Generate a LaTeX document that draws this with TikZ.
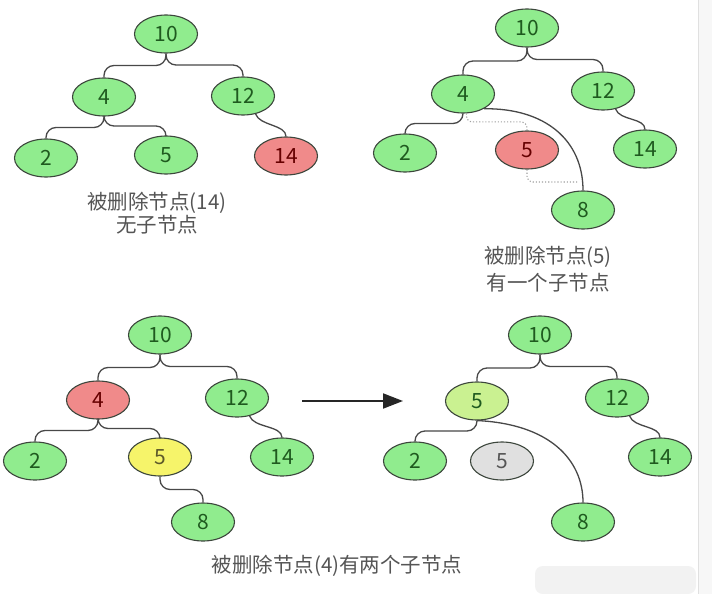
\documentclass[tikz,border=0pt]{standalone}
\usepackage{fontspec}
\setmainfont{Noto Sans CJK SC}
\usetikzlibrary{arrows.meta,calc,shapes.geometric}
\definecolor{ngreen}{HTML}{90EC8E}
\definecolor{nred}{HTML}{F08A8A}
\definecolor{nyellow}{HTML}{F6F46A}
\definecolor{nlime}{HTML}{CAF191}
\definecolor{ngray}{HTML}{E0E0E0}
\definecolor{edgecol}{HTML}{3C463C}
\definecolor{linecol}{HTML}{484848}
\definecolor{dgreen}{HTML}{1F5A1F}
\definecolor{capcol}{HTML}{555555}
\tikzset{
  tn/.style={ellipse, draw=edgecol, line width=1.1pt, minimum width=63pt, minimum height=38pt,
             inner sep=0pt, font=\fontsize{21}{21}\selectfont, text=dgreen},
  gn/.style={tn, fill=ngreen},
  rn/.style={tn, fill=nred, text=red!40!black},
  yn/.style={tn, fill=nyellow, text=olive!55!black},
  ln/.style={tn, fill=nlime},
  grn/.style={tn, fill=ngray, text=capcol},
  conn/.style={draw=linecol, line width=1.3pt, rounded corners=10pt},
  curvec/.style={draw=linecol, line width=1.3pt},
  dots/.style={draw=gray!75, line width=1.1pt, dotted, rounded corners=6pt},
  captxt/.style={font=\fontsize{20.5}{20.5}\selectfont, text=capcol, inner sep=0pt},
  bigarrow/.style={draw=black!85, line width=2pt, -{Triangle[length=20pt,width=15pt]}},
}
\begin{document}
\begin{tikzpicture}[x=1pt,y=-1pt]
\useasboundingbox (0,0) rectangle (712,594);
\fill[white] (0,0) rectangle (712,594);
\fill[black!3] (698,0) rectangle (712,594);
\draw[black!12, line width=0.8pt] (698,0) -- (698,594);
\fill[black!5, rounded corners=8pt] (535,566) rectangle (696,594);

% ---------- panel 1 ----------
\node[gn] (a10) at (166,34) {10};
\node[gn] (a4) at (104,97) {4};
\node[gn] (a12) at (243,96) {12};
\node[gn] (a2) at (46,158) {2};
\node[gn] (a5) at (166,155) {5};
\node[rn] (a14) at (286,156) {14};
\draw[conn] (a10.south) |- ($(a10.south)!.5!(a4.north)$) -| (a4.north);
\draw[conn] (a10.south) |- ($(a10.south)!.5!(a12.north)$) -| (a12.north);
\draw[conn] (a4.south) |- ($(a4.south)!.5!(a2.north)$) -| (a2.north);
\draw[conn] (a4.south) |- ($(a4.south)!.5!(a5.north)$) -| (a5.north);
\draw[curvec] (a12.-55) .. controls +(4,12) and +(0,-12) .. (a14.north);
\node[captxt] (capa1) at (157,203) {被删除节点(14)};
\node[captxt] (capa2) at (157,225) {无子节点};

% ---------- panel 2 ----------
\node[gn] (b10) at (527,28) {10};
\node[gn] (b4) at (463,94) {4};
\node[gn] (b12) at (603,91) {12};
\node[gn] (b2) at (405,153) {2};
\node[rn] (b5) at (527,150) {5};
\node[gn] (b14) at (645,149) {14};
\node[gn] (b8) at (583,210) {8};
\coordinate (b58) at (579,182);
\draw[conn] (b10.south) |- ($(b10.south)!.5!(b4.north)$) -| (b4.north);
\draw[conn] (b10.south) |- ($(b10.south)!.5!(b12.north)$) -| (b12.north);
\draw[conn] (b4.south) |- ($(b4.south)!.5!(b2.north)$) -| (b2.north);
\draw[curvec] (b12.-55) .. controls +(4,12) and +(0,-12) .. (b14.north);
\draw[curvec] (b4.-35) .. controls (545,108) and (583,140) .. (b8.north);
\draw[dots] (b4.-80) |- ($(b4.-80)!.5!(b5.north)$) -| (b5.north);
\draw[dots] (b5.south) |- (b58);
\node[captxt] (capb1) at (548,257) {被删除节点(5)};
\node[captxt] (capb2) at (548,283) {有一个子节点};

% ---------- panel 3 ----------
\node[gn] (c10) at (160,335) {10};
\node[rn] (c4) at (98,400) {4};
\node[gn] (c12) at (237,398) {12};
\node[gn] (c2) at (35,461) {2};
\node[yn] (c5) at (160,457) {5};
\node[gn] (c14) at (282,457) {14};
\node[gn] (c8) at (203,522) {8};
\draw[conn] (c10.south) |- ($(c10.south)!.5!(c4.north)$) -| (c4.north);
\draw[conn] (c10.south) |- ($(c10.south)!.5!(c12.north)$) -| (c12.north);
\draw[conn] (c4.south) |- ($(c4.south)!.5!(c2.north)$) -| (c2.north);
\draw[conn] (c4.south) |- ($(c4.south)!.5!(c5.north)$) -| (c5.north);
\draw[curvec] (c12.-55) .. controls +(4,12) and +(0,-12) .. (c14.north);
\draw[conn] (c5.south) |- ($(c5.south)!.5!(c8.north)$) -| (c8.north);

% arrow
\coordinate (arrs) at (302,401);
\coordinate (arre) at (403,401);
\draw[bigarrow] (arrs) -- (arre);

% ---------- panel 4 ----------
\node[gn] (d10) at (540,335) {10};
\node[ln] (d5) at (477,401) {5};
\node[gn] (d12) at (617,398) {12};
\node[gn] (d2) at (415,461) {2};
\node[grn] (d5g) at (502,461) {5};
\node[gn] (d14) at (660,457) {14};
\node[gn] (d8) at (583,522) {8};
\draw[conn] (d10.south) |- ($(d10.south)!.5!(d5.north)$) -| (d5.north);
\draw[conn] (d10.south) |- ($(d10.south)!.5!(d12.north)$) -| (d12.north);
\draw[conn] (d5.south) |- ($(d5.south)!.5!(d2.north)$) -| (d2.north);
\draw[curvec] (d12.-55) .. controls +(4,12) and +(0,-12) .. (d14.north);
\draw[curvec] (d5.south) .. controls (550,424) and (583,460) .. (d8.north);

\node[captxt] (capc) at (337,566) {被删除节点(4)有两个子节点};
\end{tikzpicture}
\end{document}
